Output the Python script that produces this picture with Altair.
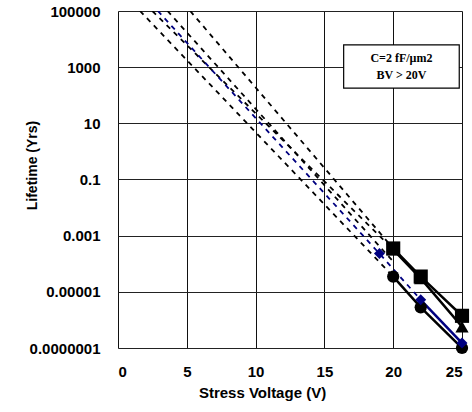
import altair as alt
import pandas as pd

# ---- data ----
voltage = [20, 22, 25]
life_square = [3.5e-4, 3.5e-5, 1.4e-6]
life_triangle = [3.2e-4, 3.0e-5, 5.7e-7]
life_circle = [3.5e-5, 2.8e-6, 1.0e-7]

voltage_diamond = [19, 22, 25]
life_diamond = [2.3e-4, 5.2e-6, 1.5e-7]

# dashed extrapolations (start at top of plot, end at a measured point)
trend_names = ["T_circle", "T_triangle", "T_mid", "T_square"]
trend_v_start = [1.6, 2.5, 3.6, 5.25]
trend_l_start = [1e5, 1e5, 1e5, 1e5]
trend_v_end = [20, 20, 20, 20]
trend_l_end = [3.5e-5, 3.2e-4, 1.2e-4, 3.5e-4]

blue_trend_v = [2.9, 19, 22]
blue_trend_l = [1e5, 2.3e-4, 5.2e-6]

y_ticks = [1e5, 1e3, 10, 0.1, 1e-3, 1e-5, 1e-7]
x_ticks = [0, 5, 10, 15, 20, 25]

box_v = [16.4, 24.8]
box_l = [6200, 180]
note_lines = ["C=2 fF/\u00b5m2", "BV > 20V"]
note_v = [20.6, 20.6]
note_l = [2150, 525]

# ---- tables ----
rows = []
for name, vals in [("square", life_square), ("triangle", life_triangle), ("circle", life_circle)]:
    for v, l in zip(voltage, vals):
        rows.append({"series": name, "V": v, "L": l})
pts = pd.DataFrame(rows)
diamond = pd.DataFrame({"series": "diamond", "V": voltage_diamond, "L": life_diamond})
solid_blue = diamond[diamond["V"] >= 22]

trows = []
for n, vs, ls, ve, le in zip(trend_names, trend_v_start, trend_l_start, trend_v_end, trend_l_end):
    trows.append({"t": n, "V": vs, "L": ls, "o": 0})
    trows.append({"t": n, "V": ve, "L": le, "o": 1})
trend = pd.DataFrame(trows)
btrend = pd.DataFrame({"t": "blue", "V": blue_trend_v, "L": blue_trend_l, "o": range(len(blue_trend_v))})

FONT = "Liberation Sans"

xscale = alt.Scale(domain=[0, 25], nice=False)
yscale = alt.Scale(type="log", domain=[1e-7, 1e5], nice=False)

x_enc = alt.X("V:Q", scale=xscale, axis=alt.Axis(
    values=x_ticks, title="Stress Voltage (V)", grid=True, gridColor="#111", gridWidth=1,
    domain=False, ticks=False, labelPadding=16, labelFontSize=15, labelFont=FONT,
    labelFontWeight="bold", labelColor="black", titleFont=FONT, titleFontSize=15,
    titleFontWeight="bold", titleColor="black", titlePadding=6, titleX=144, titleAlign="center"))
y_enc = alt.Y("L:Q", scale=yscale, axis=alt.Axis(
    values=y_ticks, title="Lifetime (Yrs)", grid=True, gridColor="#222", gridWidth=1,
    domain=False, ticks=False, labelPadding=18, labelFontSize=15, labelFont=FONT,
    labelFontWeight="bold", labelColor="black", titleFont=FONT, titleFontSize=14,
    titleFontWeight="bold", titleColor="black", titleX=-86, titleY=154, titleAngle=-90,
    titleAlign="center", titleBaseline="middle",
    labelExpr="datum.value >= 1 ? format(datum.value, 'd') : format(datum.value, '.' + (-round(log(datum.value)/LN10)) + 'f')"))

dashed_black = alt.Chart(trend).mark_line(color="black", strokeWidth=1.8, strokeDash=[5, 5], clip=True).encode(
    x=x_enc, y=y_enc, detail="t:N", order="o:Q")
dashed_blue = alt.Chart(btrend).mark_line(color="#000080", strokeWidth=1.8, strokeDash=[5, 5], clip=True).encode(
    x="V:Q", y="L:Q", order="o:Q")

solid_black = alt.Chart(pts).mark_line(color="black", strokeWidth=2.5, clip=True).encode(
    x="V:Q", y="L:Q", detail="series:N")
solid_blue_line = alt.Chart(solid_blue).mark_line(color="#000080", strokeWidth=2.5, clip=True).encode(
    x="V:Q", y="L:Q")

shape_scale = alt.Scale(domain=["square", "triangle", "circle"], range=["square", "triangle-up", "circle"])
size_scale = alt.Scale(domain=["square", "triangle", "circle"], range=[200, 150, 150])
markers = alt.Chart(pts).mark_point(filled=True, color="black", opacity=1).encode(
    x="V:Q", y="L:Q",
    shape=alt.Shape("series:N", scale=shape_scale, legend=None),
    size=alt.Size("series:N", scale=size_scale, legend=None))
dmarkers = alt.Chart(diamond).mark_point(filled=True, color="#000080", opacity=1, size=120, shape="diamond").encode(
    x="V:Q", y="L:Q")

box_df = pd.DataFrame({"V": [box_v[0]], "V2": [box_v[1]], "L": [box_l[0]], "L2": [box_l[1]]})
box = alt.Chart(box_df).mark_rect(fill="white", stroke="black", strokeWidth=1.2).encode(
    x="V:Q", x2="V2:Q", y="L:Q", y2="L2:Q")
note_df = pd.DataFrame({"txt": note_lines, "V": note_v, "L": note_l})
note = alt.Chart(note_df).mark_text(font="Liberation Serif", fontWeight="bold", fontSize=12,
                                    color="black", align="center", baseline="middle").encode(
    x="V:Q", y="L:Q", text="txt:N")

chart = alt.layer(dashed_black, dashed_blue, solid_black, solid_blue_line, markers, dmarkers, box, note).properties(
    width=344, height=337,
    autosize=alt.AutoSizeParams(type="none"),
    padding={"left": 118, "top": 11, "right": 10, "bottom": 64},
).configure_view(stroke="black", strokeWidth=1.5).configure(background="white")

chart.save("out.html", embed_options={"renderer": "svg", "actions": False})
